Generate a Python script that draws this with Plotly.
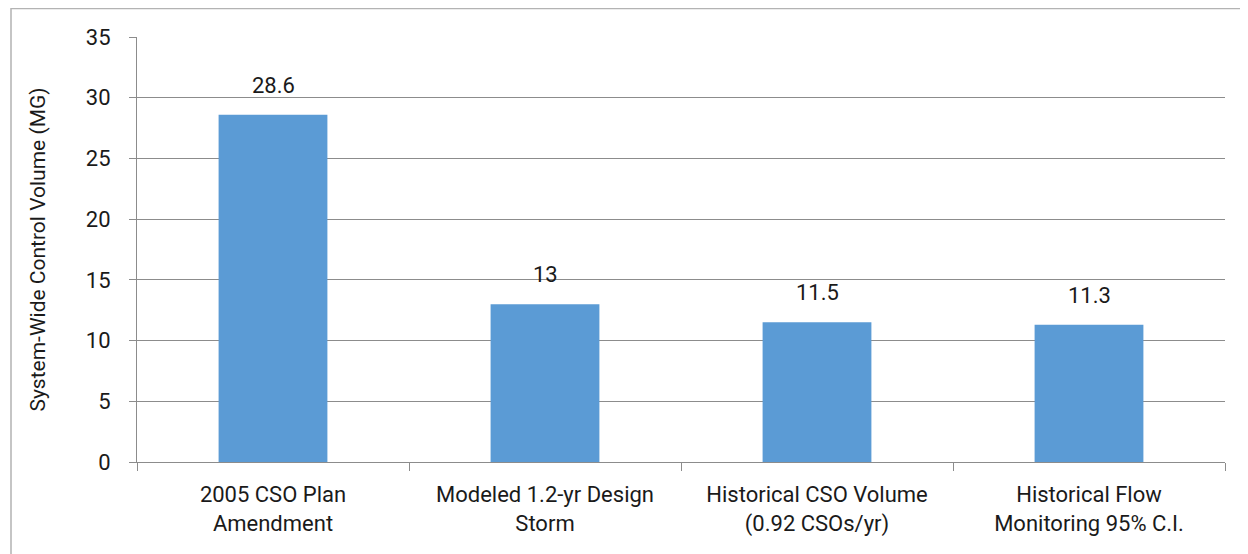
import plotly.graph_objects as go

categories = ["2005 CSO Plan<br>Amendment", "Modeled 1.2-yr Design<br>Storm",
              "Historical CSO Volume<br>(0.92 CSOs/yr)", "Historical Flow<br>Monitoring 95% C.I."]
values = [28.6, 13, 11.5, 11.3]
value_labels = ["28.6", "13", "11.5", "11.3"]
y_ticks = [0, 5, 10, 15, 20, 25, 30, 35]

FONT = "Roboto"
TXT = "#1a1a1a"
GRID = "#8c8c8c"

# page body has an 8px margin; compensate so the plot area lands where the reference has it
W, H = 1240, 546
L, R, T, B = 129, 23, 29, 92
pw, ph = W - L - R, H - T - B

fig = go.Figure()
fig.add_trace(go.Bar(x=categories, y=values, marker=dict(color="#5B9BD5", line=dict(width=0)),
                     width=0.4, hoverinfo="skip"))

for c, v, t in zip(categories, values, value_labels):
    fig.add_annotation(x=c, y=v, text=t, showarrow=False, yanchor="bottom", yshift=15,
                       font=dict(family=FONT, size=22, color=TXT))

fig.update_layout(
    width=W, height=H,
    margin=dict(l=L, r=R, t=T, b=B),
    plot_bgcolor="white", paper_bgcolor="white",
    showlegend=False,
    font=dict(family=FONT, size=22, color=TXT),
    xaxis=dict(showline=True, linecolor=GRID, linewidth=1,
               ticks="outside", ticklen=8, tickcolor=GRID, tickson="boundaries",
               ticklabelstandoff=13,
               showgrid=False, tickfont=dict(family=FONT, size=22, color=TXT)),
    yaxis=dict(range=[0, 35], tickvals=y_ticks, showline=True, linecolor=GRID, linewidth=1,
               ticks="outside", ticklen=7, tickcolor=GRID, ticklabelstandoff=14,
               showgrid=True, gridcolor=GRID, gridwidth=1, zeroline=False,
               tickfont=dict(family=FONT, size=22, color=TXT),
               title=dict(text="System-Wide Control Volume (MG)",
                          font=dict(family=FONT, size=21, color=TXT), standoff=34)),
    shapes=[dict(type="rect", xref="paper", yref="paper",
                 x0=(3 - L) / pw, x1=1.3, y0=-0.6, y1=(ph + T - 0.5) / ph,
                 line=dict(color="#b3b3b3", width=1.5), fillcolor="rgba(0,0,0,0)", layer="below")],
)

fig.write_html("out.html")
